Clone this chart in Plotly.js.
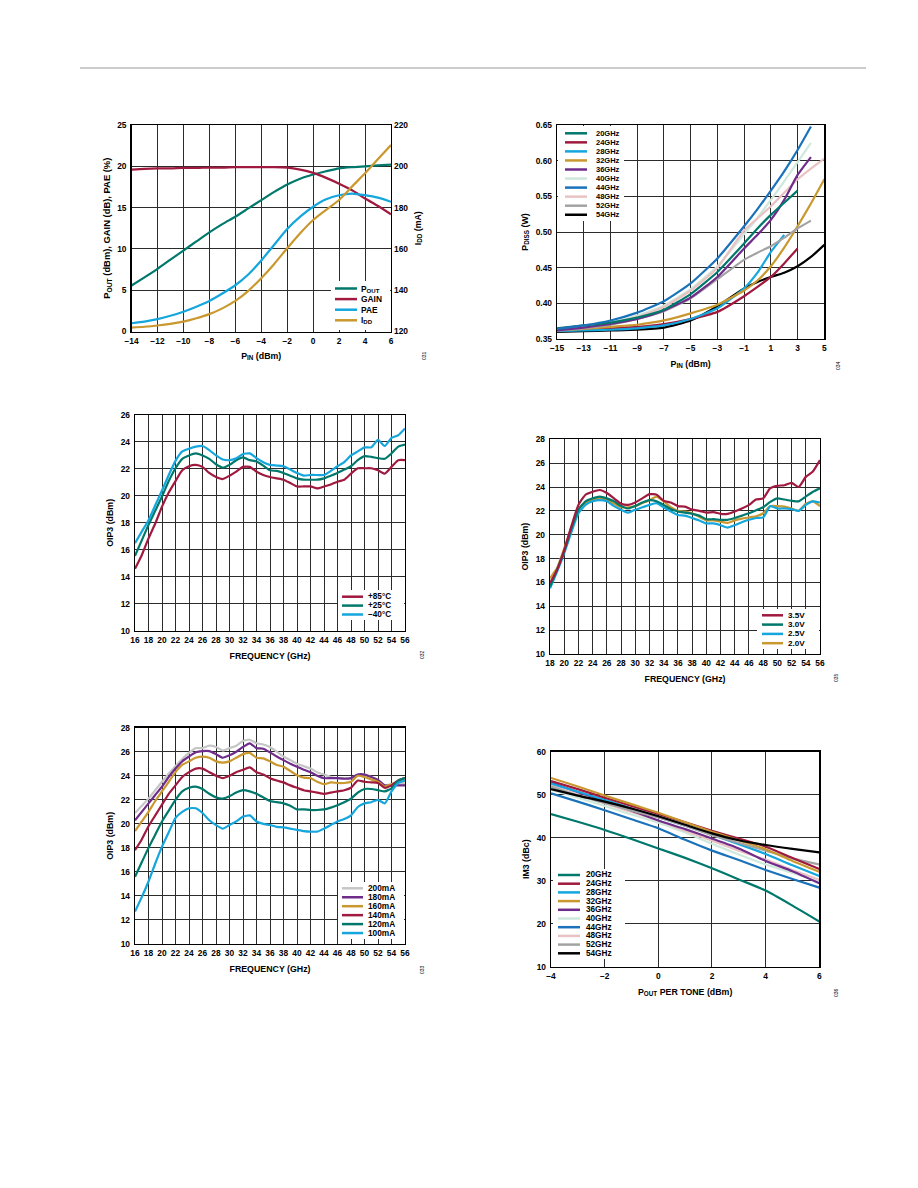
<!DOCTYPE html>
<html><head><meta charset="utf-8">
<script src="https://cdn.plot.ly/plotly-3.0.1.min.js"></script>
<style>html,body{margin:0;padding:0;background:#fff}#c{width:918px;height:1188px}</style>
</head><body><div id="c"></div>
<script>
// ---------- DATA ----------
// Chart 1: POUT, GAIN, PAE, IDD vs PIN
const pin1 = [-14,-13,-12,-11,-10,-9,-8,-7,-6,-5,-4,-3,-2,-1,0,1,2,3,4,5,6];
const pout1 = [5.56,6.55,7.58,8.7,9.8,10.9,12.0,13.0,13.9,14.9,15.9,16.9,17.8,18.5,19.0,19.4,19.75,19.9,20.0,20.1,20.2];
const gain1 = [19.6,19.7,19.75,19.75,19.8,19.8,19.85,19.85,19.9,19.9,19.9,19.9,19.85,19.6,19.2,18.6,17.9,17.1,16.1,15.2,14.2];
const pae1  = [1.0,1.2,1.5,1.9,2.4,3.0,3.7,4.6,5.6,6.9,8.6,10.5,12.4,13.9,15.1,16.0,16.5,16.7,16.5,16.2,15.7];
const idd1  = [121.9,122.3,122.9,123.7,124.8,126.4,128.4,131.2,134.8,139.7,145.8,152.7,160.3,167.6,174.0,178.9,183.7,190.2,196.6,203.5,210.3];

// subscript helper (lowered, smaller text inside one text element)
const SUB = s => '<span style="font-size:72%;baseline-shift:-22%">' + s + '</span>';
const names1 = ['P' + SUB('OUT'), 'GAIN', 'PAE', 'I' + SUB('DD')];

// Chart 2: PDISS vs PIN
const pin2 = [-15,-13,-11,-9,-7,-5,-3,-1,0,1,2,3,4,5];
const diss20 = [0.365,0.369,0.373,0.380,0.391,0.413,0.444,0.484,0.505,0.524,0.541,0.558,null,null];
const diss24 = [0.362,0.363,0.365,0.367,0.371,0.378,0.388,0.410,0.423,0.437,0.456,0.477,null,null];
const diss28 = [0.361,0.362,0.363,0.365,0.369,0.378,0.393,0.421,0.443,0.472,0.496,null,null,null];
const diss32 = [0.362,0.364,0.367,0.370,0.376,0.386,0.398,0.418,0.432,0.452,0.478,0.508,0.540,0.574];
const diss36 = [0.362,0.366,0.371,0.378,0.390,0.408,0.437,0.477,0.496,0.517,0.545,0.580,0.605,null];
const diss40 = [0.364,0.368,0.373,0.383,0.397,0.420,0.452,0.497,0.520,0.545,0.571,0.598,0.625,null];
const diss44 = [0.364,0.369,0.376,0.387,0.403,0.428,0.463,0.508,0.532,0.558,0.585,0.615,0.648,null];
const diss48 = [0.363,0.367,0.372,0.381,0.395,0.418,0.450,0.502,0.519,0.536,0.555,0.574,0.589,0.603];
const diss52 = [0.362,0.365,0.370,0.378,0.389,0.407,0.434,0.461,0.471,0.480,0.492,0.505,0.516,null];
const diss54 = [0.360,0.361,0.362,0.363,0.366,0.376,0.396,0.421,0.430,0.437,0.443,0.452,0.465,0.482];
const names2 = ['20GHz','24GHz','28GHz','32GHz','36GHz','40GHz','44GHz','48GHz','52GHz','54GHz'];

// Chart 3: OIP3 vs frequency over temperature
const freq3 = [16,17,18,19,20,21,22,23,24,25,26,27,28,29,30,31,32,33,34,35,36,37,38,39,40,41,42,43,44,45,46,47,48,49,50,51,52,53,54,55,56];
const oipP85 = [14.6,15.6,16.85,17.95,19.2,20.25,21.1,21.9,22.2,22.3,22.15,21.7,21.4,21.25,21.5,21.8,22.15,22.15,21.8,21.55,21.4,21.3,21.2,20.95,20.7,20.7,20.7,20.55,20.7,20.85,21.05,21.2,21.65,22.05,22.05,22.05,21.9,21.65,22.15,22.65,22.65];
const oipP25 = [15.55,16.7,17.85,18.9,19.95,21.1,22.05,22.75,23.0,23.15,23.0,22.75,22.35,22.1,22.3,22.65,22.85,22.65,22.55,22.25,21.9,21.85,21.7,21.5,21.3,21.2,21.2,21.2,21.3,21.5,21.7,21.95,22.2,22.65,22.95,22.9,22.8,22.75,23.15,23.65,23.8];
const oipM40 = [16.5,17.35,18.2,19.3,20.4,21.55,22.6,23.3,23.5,23.65,23.7,23.4,23.0,22.7,22.65,22.8,23.1,23.15,22.8,22.5,22.3,22.25,22.2,21.95,21.7,21.5,21.55,21.55,21.55,21.85,22.2,22.5,23.0,23.3,23.6,23.6,24.15,23.7,24.3,24.5,25.0];
const names3 = ['+85°C','+25°C','−40°C'];

// Chart 4: OIP3 vs frequency over supply voltage
const freq4 = [18,19,20,21,22,23,24,25,26,27,28,29,30,31,32,33,34,35,36,37,38,39,40,41,42,43,44,45,46,47,48,49,50,51,52,53,54,55,56];
const oip35V = [15.95,17.05,18.7,20.7,22.5,23.35,23.6,23.75,23.5,23.05,22.6,22.5,22.7,23.05,23.4,23.35,22.85,22.7,22.4,22.35,22.1,22.0,21.85,21.9,21.75,21.75,21.95,22.2,22.5,22.95,23.05,23.9,24.1,24.15,24.35,24.0,24.85,25.3,26.25];
const oip30V = [15.65,17.1,18.6,20.5,22.1,22.8,23.05,23.2,23.05,22.8,22.4,22.2,22.4,22.7,22.9,22.8,22.5,22.15,21.95,21.85,21.75,21.6,21.3,21.3,21.25,21.25,21.4,21.6,21.8,22.05,22.3,22.75,23.05,22.95,22.85,22.8,23.2,23.6,23.9];
const oip25V = [15.5,16.9,18.45,20.2,21.8,22.5,22.8,22.9,22.8,22.4,22.1,21.85,22.1,22.3,22.5,22.65,22.3,21.95,21.65,21.6,21.4,21.2,20.95,20.95,20.8,20.6,20.8,21.05,21.25,21.4,21.45,22.4,22.2,22.2,22.15,22.0,22.5,22.8,22.7];
const oip20V = [16.35,17.2,18.85,20.6,22.2,22.65,22.9,23.05,22.9,22.6,22.3,22.3,22.4,22.65,22.9,23.2,22.8,22.3,22.0,21.95,21.8,21.5,21.2,21.2,21.1,21.0,21.2,21.35,21.45,21.55,21.8,22.4,22.4,22.35,22.2,22.0,22.6,22.8,22.4];
const names4 = ['3.5V','3.0V','2.5V','2.0V'];

// Chart 5: OIP3 vs frequency over IDD
const freq5 = [16,17,18,19,20,21,22,23,24,25,26,27,28,29,30,31,32,33,34,35,36,37,38,39,40,41,42,43,44,45,46,47,48,49,50,51,52,53,54,55,56];
const oip200 = [20.9,21.5,22.1,22.8,23.5,24.2,24.8,25.4,25.9,26.3,26.3,26.5,26.4,26.1,26.3,26.5,26.9,27.0,26.7,26.6,26.4,26.0,25.6,25.3,25.0,24.8,24.6,24.3,24.1,23.9,23.8,23.8,23.8,24.1,24.1,23.9,23.55,23.2,23.3,23.3,23.3];
const oip180 = [20.3,21.0,21.7,22.4,23.1,23.9,24.6,25.2,25.6,25.95,26.05,26.05,25.8,25.5,25.7,26.0,26.4,26.7,26.3,26.25,25.95,25.6,25.3,25.0,24.75,24.5,24.3,24.0,23.8,23.8,23.8,23.75,23.8,24.1,24.1,23.9,23.65,23.2,23.2,23.2,23.2];
const oip160 = [19.4,20.2,21.0,21.9,22.7,23.5,24.3,24.9,25.2,25.5,25.6,25.5,25.2,25.1,25.2,25.5,25.8,25.9,25.5,25.45,25.2,24.9,24.75,24.4,24.05,23.85,23.8,23.5,23.3,23.45,23.4,23.4,23.5,24.0,23.9,23.7,23.5,23.1,23.3,23.5,23.55];
const oip140 = [17.8,18.7,19.8,20.7,21.6,22.5,23.2,23.9,24.3,24.6,24.6,24.3,24.0,23.8,24.0,24.3,24.5,24.7,24.3,24.1,23.8,23.6,23.45,23.2,23.0,22.8,22.7,22.6,22.5,22.6,22.7,22.8,23.0,23.6,23.5,23.45,23.4,23.0,23.2,23.6,23.8];
const oip120 = [15.6,16.8,18.0,19.1,20.2,21.1,22.0,22.7,23.0,23.1,22.9,22.5,22.2,22.1,22.3,22.6,22.8,22.7,22.5,22.2,21.9,21.8,21.7,21.5,21.2,21.2,21.15,21.15,21.2,21.35,21.55,21.8,22.1,22.6,22.9,22.9,22.8,22.7,22.95,23.6,23.8];
const oip100 = [12.7,13.9,15.2,16.7,18.1,19.3,20.5,21.0,21.3,21.3,20.9,20.3,19.9,19.6,19.9,20.2,20.6,20.7,20.2,20.0,19.9,19.75,19.7,19.6,19.5,19.4,19.35,19.35,19.6,19.9,20.2,20.4,20.7,21.4,21.7,21.8,22.0,21.7,22.7,23.4,23.6];
const names5 = ['200mA','180mA','160mA','140mA','120mA','100mA'];

// Chart 6: IM3 vs POUT per tone
const pout6 = [-4,-3,-2,-1,0,1,2,3,4,5,6];
const im20 = [45.5,43.7,41.8,39.7,37.5,35.3,32.9,30.3,27.7,24.2,20.5];
const im24 = [53.2,51.3,49.3,47.4,45.5,43.6,41.6,39.8,37.9,35.3,32.7];
const im28 = [52.6,50.7,48.8,46.8,44.8,42.8,40.7,38.5,36.2,33.6,31.1];
const im32 = [53.9,51.9,49.8,47.8,45.8,43.6,41.4,39.4,37.3,34.6,32.1];
const im36 = [52.8,50.6,48.6,46.3,44.0,42.0,39.8,37.5,34.6,32.2,29.4];
const im40 = [51.2,49.3,47.4,45.4,43.5,41.2,38.6,36.1,33.8,31.8,29.8];
const im44 = [50.3,48.4,46.4,44.3,42.2,39.5,37.0,34.8,32.5,30.4,28.4];
const im48 = [52.2,50.0,48.0,46.0,44.0,41.6,39.3,37.0,34.9,32.5,30.2];
const im52 = [51.9,49.8,48.1,46.3,44.7,42.8,40.6,38.8,37.0,35.2,33.8];
const im54 = [51.3,49.8,48.4,46.8,45.0,43.0,41.0,39.4,38.3,37.4,36.6];
const names6 = ['20GHz','24GHz','28GHz','32GHz','36GHz','40GHz','44GHz','48GHz','52GHz','54GHz'];

// ---------- STYLE ----------
const C = {teal:'#00786c', maroon:'#a0193f', lblue:'#14a6dc', gold:'#c9982e', purple:'#6f2c8a',
  mint:'#cfe8dc', blue:'#1a72bb', pink:'#e9c3c3', gray:'#a3a3a3', black:'#000000', lgray:'#c6c6c6'};
const FONT = 'Liberation Sans, Arial, Helvetica, sans-serif';
const W = 918, H = 1188;
const px = x => x / W, py = y => 1 - y / H;
const TICK = 8.4, TTL = 8.8;

function xax(l, r, range, dtick, title, extra) {
  return Object.assign({domain:[px(l), px(r)], range, dtick, tick0:range[0], tickmode:'linear',
    showgrid:true, gridcolor:'#2b2b2b', gridwidth:1, showline:true, linecolor:'#000', linewidth:1.3,
    mirror:true, zeroline:false, ticks:'', ticklabelstandoff:1,
    tickfont:{family:FONT, size:TICK, color:'#000', weight:'bold'}, fixedrange:true,
    title:{text:title, font:{family:FONT, size:TTL, color:'#000', weight:'bold'}, standoff:8}}, extra||{});
}
function yax(t, b, range, dtick, title, extra) {
  return Object.assign({domain:[py(b), py(t)], range, dtick, tick0:range[0], tickmode:'linear',
    showgrid:true, gridcolor:'#2b2b2b', gridwidth:1, showline:true, linecolor:'#000', linewidth:1.3,
    mirror:true, zeroline:false, ticks:'', ticklabelstandoff:2,
    tickfont:{family:FONT, size:TICK, color:'#000', weight:'bold'}, fixedrange:true,
    title:{text:title, font:{family:FONT, size:TTL, color:'#000', weight:'bold'}, standoff:5}}, extra||{});
}

const traces = [];
function line(x, y, color, xa, ya, name, smooth) {
  traces.push({type:'scatter', mode:'lines', x, y, name, xaxis:xa, yaxis:ya, connectgaps:false,
    line:{color, width:2.2, shape:'spline', smoothing:smooth||0.6}, hoverinfo:'skip', showlegend:false});
}

// chart 1
line(pin1, pout1, C.teal, 'x', 'y', 'POUT');
line(pin1, gain1, C.maroon, 'x', 'y', 'GAIN');
line(pin1, pae1, C.lblue, 'x', 'y', 'PAE');
line(pin1, idd1, C.gold, 'x', 'y2', 'IDD');
// chart 2
const cols2 = [C.teal, C.maroon, C.lblue, C.gold, C.purple, C.mint, C.blue, C.pink, C.gray, C.black];
const ser2 = [diss20,diss24,diss28,diss32,diss36,diss40,diss44,diss48,diss52,diss54];
[9,1,2,3,8,5,7,4,0,6].forEach(i=>line(pin2, ser2[i], cols2[i], 'x2', 'y3', names2[i], 0.5));
// chart 3
const cols3 = [C.maroon, C.teal, C.lblue];
[oipP85, oipP25, oipM40].forEach((s,i)=>line(freq3, s, cols3[i], 'x3', 'y4', names3[i], 0.5));
// chart 4
const cols4 = [C.maroon, C.teal, C.lblue, C.gold];
[oip20V, oip25V, oip30V, oip35V].forEach((s,i)=>line(freq4, s, cols4[3-i], 'x4', 'y5', names4[3-i], 0.5));
// chart 5
const cols5 = [C.lgray, C.purple, C.gold, C.maroon, C.teal, C.lblue];
[oip200, oip180, oip160, oip140, oip120, oip100].forEach((s,i)=>line(freq5, s, cols5[i], 'x5', 'y6', names5[i], 0.5));
// chart 6
const cols6 = [C.teal, C.maroon, C.lblue, C.gold, C.purple, C.mint, C.blue, C.pink, C.gray, C.black];
const ser6 = [im20, im24, im28, im32, im36, im40, im44, im48, im52, im54];
[5,7,6,4,2,8,1,3,0,9].forEach(i=>line(pout6, ser6[i], cols6[i], 'x6', 'y7', names6[i]));

// ---------- LEGENDS (built from series names/colours) ----------
const shapes = [], annotations = [];
shapes.push({type:'line', xref:'paper', yref:'paper', x0:px(80), x1:px(866), y0:py(68), y1:py(68), line:{color:'#9a9a9a', width:1}});
function legend(names, colors, o) {
  shapes.push({type:'rect', xref:'paper', yref:'paper', x0:px(o.bg[0]), x1:px(o.bg[2]), y0:py(o.bg[3]), y1:py(o.bg[1]),
    fillcolor:'#ffffff', line:{width:0}, layer:'above'});
  names.forEach((n,i)=>{
    const yy = py(o.y0 + i*o.dy);
    shapes.push({type:'line', xref:'paper', yref:'paper', x0:px(o.lx[0]), x1:px(o.lx[1]), y0:yy, y1:yy,
      line:{color:colors[i], width:2.5}, layer:'above'});
    annotations.push({xref:'paper', yref:'paper', x:px(o.tx), y:yy, xanchor:'left', yanchor:'middle', showarrow:false,
      text:n, borderpad:0, font:{family:FONT, size:o.size, color:'#000', weight:'bold'}});
  });
}
legend(names1, [C.teal, C.maroon, C.lblue, C.gold], {bg:[331,281,390,330], y0:288.5, dy:10.6, lx:[335,357], tx:360, size:8.4});
legend(names2, cols2, {bg:[558,126,624,221], y0:133.3, dy:9.05, lx:[565,587], tx:595, size:7.5});
legend(names3, cols3, {bg:[338,590,404,620], y0:596.7, dy:8.9, lx:[342,363], tx:367, size:8.2});
legend(names4, cols4, {bg:[757,609,819,649], y0:615.3, dy:9.3, lx:[762,783], tx:787, size:8.1});
legend(names5, cols5, {bg:[338,882,404,939], y0:888.3, dy:8.95, lx:[342,363], tx:367, size:8.3});
legend(names6, cols6, {bg:[553,869,625,959], y0:875, dy:8.7, lx:[558,580], tx:585, size:8.2});

// figure id labels
[['031',424,356],['034',838,366],['032',422,655],['035',836,678],['033',422,970],['036',836,993]].forEach(a=>{
  annotations.push({xref:'paper', yref:'paper', x:px(a[1]), y:py(a[2]), text:a[0], showarrow:false, textangle:-90,
    xanchor:'center', yanchor:'middle', font:{family:FONT, size:5, color:'#000'}});
});

const bigTitle = {family:FONT, size:9.4, color:'#000', weight:'bold'};
const layout = {
  width:W, height:H, margin:{l:0, r:0, t:0, b:0}, paper_bgcolor:'#fff', plot_bgcolor:'#fff', showlegend:false,
  font:{family:FONT, color:'#000'},
  xaxis: xax(131.5, 391, [-14,6], 2, 'P' + SUB('IN') + ' (dBm)', {anchor:'y'}),
  yaxis: yax(125, 331.5, [0,25], 5, 'P' + SUB('OUT') + ' (dBm), GAIN (dB), PAE (%)', {anchor:'x'}),
  yaxis2: yax(125, 331.5, [120,220], 20, 'I' + SUB('DD') + ' (mA)', {anchor:'x', overlaying:'y', side:'right', showgrid:false, showline:false, mirror:false}),
  xaxis2: xax(557, 824.3, [-15,5], 2, 'P' + SUB('IN') + ' (dBm)', {anchor:'y3'}),
  yaxis3: yax(125, 339, [0.35,0.65], 0.05, 'P' + SUB('DISS') + ' (W)', {anchor:'x2', tickformat:'.2f'}),
  xaxis3: xax(135, 405, [16,56], 2, 'FREQUENCY (GHz)', {anchor:'y4'}),
  yaxis4: yax(415, 630.7, [10,26], 2, 'OIP3 (dBm)', {anchor:'x3'}),
  xaxis4: xax(550, 820, [18,56], 2, 'FREQUENCY (GHz)', {anchor:'y5'}),
  yaxis5: yax(439.3, 654, [10,28], 2, 'OIP3 (dBm)', {anchor:'x4'}),
  xaxis5: xax(135, 405, [16,56], 2, 'FREQUENCY (GHz)', {anchor:'y6'}),
  yaxis6: yax(727.7, 944, [10,28], 2, 'OIP3 (dBm)', {anchor:'x5'}),
  xaxis6: xax(551, 819.3, [-4,6], 2, 'P' + SUB('OUT') + ' PER TONE (dBm)', {anchor:'y7'}),
  yaxis7: yax(751.7, 966.7, [10,60], 10, 'IM3 (dBc)', {anchor:'x6'}),
  shapes, annotations
};
layout.yaxis.title.font = bigTitle;
layout.yaxis2.title.standoff = 7;
Plotly.newPlot('c', traces, layout, {staticPlot:true, displayModeBar:false});
</script></body></html>
